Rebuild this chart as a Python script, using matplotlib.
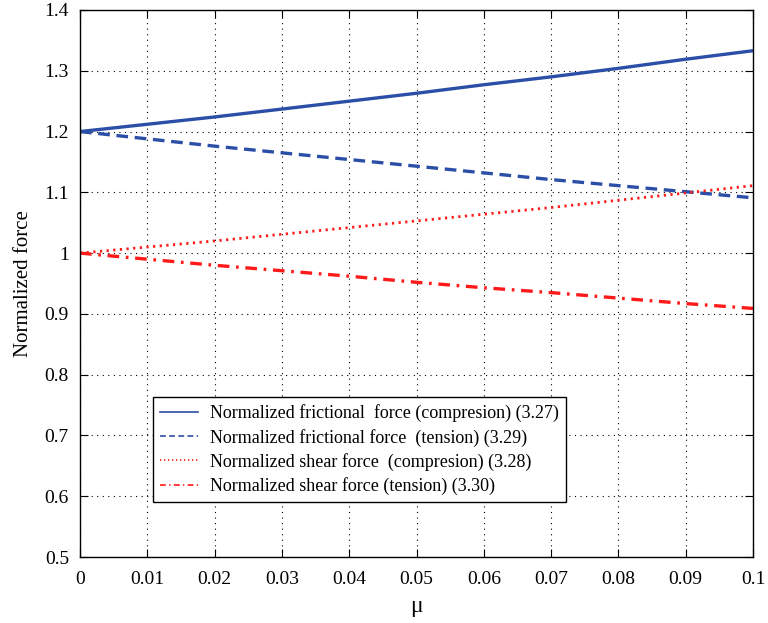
import matplotlib.pyplot as plt

plt.rcParams['font.family'] = ['Liberation Serif', 'DejaVu Serif']

# friction coefficient
mu = [0.0, 0.01, 0.02, 0.03, 0.04, 0.05, 0.06, 0.07, 0.08, 0.09, 0.1]

# values
fric_comp = [1.200, 1.212, 1.224, 1.237, 1.250, 1.263, 1.277, 1.290, 1.304, 1.319, 1.333]
fric_tens = [1.200, 1.188, 1.176, 1.165, 1.154, 1.143, 1.132, 1.121, 1.111, 1.101, 1.091]
shear_comp = [1.000, 1.010, 1.020, 1.031, 1.042, 1.053, 1.064, 1.075, 1.087, 1.099, 1.111]
shear_tens = [1.000, 0.990, 0.980, 0.971, 0.962, 0.952, 0.943, 0.935, 0.926, 0.917, 0.909]

labels = ["Normalized frictional  force (compresion) (3.27)",
          "Normalized frictional force  (tension) (3.29)",
          "Normalized shear force  (compresion) (3.28)",
          "Normalized shear force (tension) (3.30)"]

blue = '#2b4ea6'
red = '#ff1a1a'

fig = plt.figure(figsize=(7.68, 6.23), dpi=100)
ax = fig.add_axes([80/768, 1-557/623, 673/768, 547/623])

ax.plot(mu, fric_comp, color=blue, lw=2.4, ls='-', label=labels[0])
ax.plot(mu, fric_tens, color=blue, lw=2.4, ls=(0, (3.5, 2)), label=labels[1])
ax.plot(mu, shear_comp, color=red, lw=2.0, ls=(0, (0.8, 1.6)), label=labels[2])
ax.plot(mu, shear_tens, color=red, lw=2.4, ls=(0, (3.5, 2, 0.8, 2)), label=labels[3])

ax.set_xlim(0, 0.1)
ax.set_ylim(0.5, 1.4)
ax.set_xticks(mu)
ax.set_xticklabels(['0', '0.01', '0.02', '0.03', '0.04', '0.05', '0.06', '0.07', '0.08', '0.09', '0.1'])
ax.set_yticks([0.5, 0.6, 0.7, 0.8, 0.9, 1.0, 1.1, 1.2, 1.3, 1.4])
ax.set_yticklabels(['0.5', '0.6', '0.7', '0.8', '0.9', '1', '1.1', '1.2', '1.3', '1.4'])
ax.tick_params(direction='in', top=True, right=True, labelsize=14, length=6)
ax.tick_params(axis='x', pad=10)
ax.tick_params(axis='y', pad=8)
ax.grid(True, color='black', ls=(0, (1, 4)), lw=0.8)
for s in ax.spines.values():
    s.set_linewidth(1.0)

ax.set_xlabel('μ', fontsize=17, labelpad=6)
ax.set_ylabel('Normalized force', fontsize=15, labelpad=8)

leg = ax.legend(loc='lower left', bbox_to_anchor=(0.108, 0.1), fontsize=13,
                frameon=True, fancybox=False, edgecolor='black', framealpha=1,
                handlelength=2.1, handletextpad=0.65, borderpad=0.4,
                labelspacing=0.35, borderaxespad=0)
leg.get_frame().set_linewidth(1.0)
for h in leg.get_lines():
    h.set_linewidth(1.2)

fig.savefig('out.png', dpi=100)
